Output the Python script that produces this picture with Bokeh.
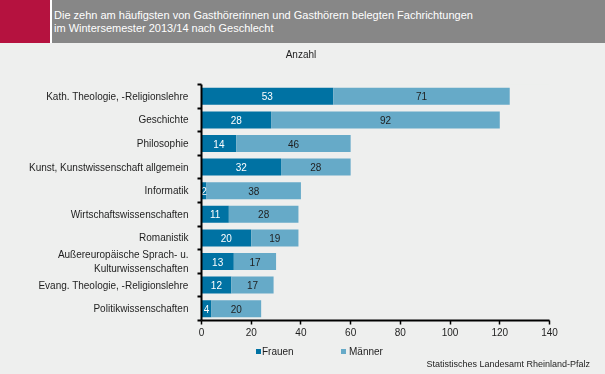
from bokeh.plotting import figure
from bokeh.layouts import column
from bokeh.models import Range1d, FixedTicker, ColumnDataSource, Div
from bokeh.embed import file_html
from bokeh.resources import INLINE
from bokeh.core.properties import value

# ---------------- data ----------------
categories = [
    "Kath. Theologie, -Religionslehre",
    "Geschichte",
    "Philosophie",
    "Kunst, Kunstwissenschaft allgemein",
    "Informatik",
    "Wirtschaftswissenschaften",
    "Romanistik",
    "Außereuropäische Sprach- u.\nKulturwissenschaften",
    "Evang. Theologie, -Religionslehre",
    "Politikwissenschaften",
]
frauen = [53, 28, 14, 32, 2, 11, 20, 13, 12, 4]
maenner = [71, 92, 46, 28, 38, 28, 19, 17, 17, 20]
series_names = ["Frauen", "Männer"]
x_ticks = [0, 20, 40, 60, 80, 100, 120, 140]
title_lines = [
    "Die zehn am häufigsten von Gasthörerinnen und Gasthörern belegten Fachrichtungen",
    "im Wintersemester 2013/14 nach Geschlecht",
]
axis_title = "Anzahl"
source_note = "Statistisches Landesamt Rheinland-Pfalz"

# ---------------- style ----------------
BG = "#eeefee"
C_F = "#0072a3"
C_M = "#66aac8"
HEADER_GREY = "#878787"
HEADER_RED = "#b5123f"
FONT = "Liberation Sans"
TXT = "#1e1e1e"
W = 605
FF = "font-family:'Liberation Sans',Arial,sans-serif;"
FIX = "position:fixed;"

# ---------------- header (HTML, placed in window coordinates) ----------------
head_html = (
    f'<div style="{FIX}left:0;top:0;right:0;bottom:0;background:{BG};z-index:-1;"></div>'
    f'<div style="{FIX}left:0px;top:0px;width:50px;height:43px;background:{HEADER_RED};"></div>'
    f'<div style="{FIX}left:50px;top:0px;width:2px;height:43px;background:#ffffff;"></div>'
    f'<div style="{FIX}left:52px;top:0px;right:0px;height:43px;background:{HEADER_GREY};"></div>'
    f'<div style="{FIX}left:54px;top:8.5px;color:#ffffff;font-size:11px;line-height:13px;white-space:nowrap;{FF}">'
    f'{title_lines[0]}<br>{title_lines[1]}</div>'
    f'<div style="{FIX}left:261px;top:49px;width:80px;text-align:center;color:{TXT};font-size:10px;line-height:12px;{FF}">{axis_title}</div>'
)
head = Div(text=head_html, width=W, height=70, margin=0,
           styles={"background-color": BG})

# ---------------- main chart ----------------
n = len(categories)
ypos = [n - 0.5 - i for i in range(n)]
totals = [f + m for f, m in zip(frauen, maenner)]

src = ColumnDataSource(dict(
    y=ypos, f=frauen, m=maenner, tot=totals,
    fx=[f / 2 for f in frauen],
    mx=[f + m / 2 for f, m in zip(frauen, maenner)],
    ft=[str(v) for v in frauen],
    mt=[str(v) for v in maenner],
))

p = figure(width=W, height=271, output_backend="svg", toolbar_location=None,
           x_range=Range1d(0, 140), y_range=Range1d(0, n),
           min_border_left=201, min_border_right=56,
           min_border_top=14, min_border_bottom=21,
           background_fill_color=BG, border_fill_color=BG,
           outline_line_color=None, margin=0)
p.xgrid.grid_line_color = None
p.ygrid.grid_line_color = None

p.hbar(y="y", left=0, right="f", height=0.72, source=src,
       fill_color=C_F, line_color=None)
p.hbar(y="y", left="f", right="tot", height=0.72, source=src,
       fill_color=C_M, line_color=None)

p.text(x="fx", y="y", text="ft", source=src, text_align="center",
       text_baseline="middle", text_color="white",
       text_font=value(FONT), text_font_size="10px")
p.text(x="mx", y="y", text="mt", source=src, text_align="center",
       text_baseline="middle", text_color=TXT,
       text_font=value(FONT), text_font_size="10px")

xa = p.xaxis[0]
xa.ticker = FixedTicker(ticks=x_ticks)
xa.axis_line_width = 2
xa.axis_line_color = "black"
xa.major_tick_in = 0
xa.major_tick_out = 4
xa.major_tick_line_width = 1.5
xa.major_tick_line_color = "black"
xa.minor_tick_line_color = None
xa.major_label_standoff = 3
xa.major_label_text_font = FONT
xa.major_label_text_font_size = "10px"
xa.major_label_text_color = TXT

ya = p.yaxis[0]
ya.ticker = FixedTicker(ticks=ypos, minor_ticks=list(range(n + 1)))
ya.major_label_overrides = {y: c for y, c in zip(ypos, categories)}
ya.axis_line_width = 2
ya.axis_line_color = "black"
ya.major_tick_line_color = None
ya.major_tick_in = 0
ya.major_tick_out = 0
ya.minor_tick_in = 0
ya.minor_tick_out = 4
ya.minor_tick_line_width = 2
ya.minor_tick_line_color = "black"
ya.major_label_standoff = 9
ya.major_label_text_font = FONT
ya.major_label_text_font_size = "10px"
ya.major_label_text_color = TXT

# ---------------- footer: legend + source (HTML, window coordinates) ----------------
def leg_item(left_sq, left_txt, color, label):
    return (
        f'<div style="{FIX}left:{left_sq}px;top:349px;width:5px;height:5px;background:{color};"></div>'
        f'<div style="{FIX}left:{left_txt}px;top:345px;font-size:10px;line-height:13px;color:{TXT};white-space:nowrap;{FF}">{label}</div>'
    )

foot_html = (
    leg_item(256, 262, C_F, series_names[0])
    + leg_item(341, 349, C_M, series_names[1])
    + f'<div style="{FIX}right:15px;top:358.5px;font-size:9px;line-height:11px;color:{TXT};white-space:nowrap;{FF}">{source_note}</div>'
)
foot = Div(text=foot_html, width=W, height=32, margin=0,
           styles={"background-color": BG})

layout = column(head, p, foot, spacing=0)
open("out.html", "w").write(file_html(layout, INLINE))
